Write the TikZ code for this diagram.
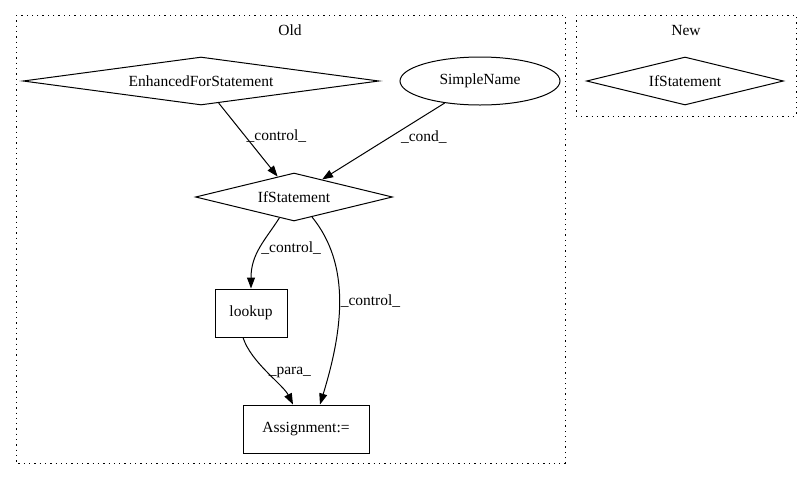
\documentclass[tikz,border=0pt]{standalone}
\usepackage{fontspec}
\setmainfont{Liberation Serif}
\usetikzlibrary{arrows.meta,shapes.geometric}
\tikzset{
  every node/.style={font=\fontsize{15.5}{18}\selectfont},
  cluster/.style={line width=1pt,dash pattern=on 1.3pt off 4pt},
  cond/.style={draw,diamond,inner sep=0pt,line width=1pt},
  var/.style={draw,ellipse,inner sep=0pt,line width=1pt,minimum width=160pt,minimum height=48pt},
  op/.style={draw,rectangle,inner sep=0pt,line width=1pt,minimum height=48pt},
  lbl/.style={inner sep=1pt},
}
\begin{document}
\begin{tikzpicture}[x=1pt,y=-1pt,>={Triangle[length=11pt,width=8pt]},line width=1pt]
    %\draw [help lines] (0,0) grid (811,480);
    \useasboundingbox (0,0) rectangle (811,480);

    \draw[cluster] (16,15) rectangle (565,463);
    \draw[cluster] (576,15) rectangle (796,116);
    \node (Old) at (290,30) {Old};
    \node (New) at (686,30) {New};

    \node[cond,aspect=7.4,minimum width=356pt,minimum height=48pt] (EnhancedForStatement) at (201,81) {EnhancedForStatement};
    \node[var] (SimpleName) at (480,81) {SimpleName};
    \node[cond,aspect=4.1,minimum width=197pt,minimum height=48pt] (IfStatement) at (294,197) {IfStatement};
    \node[op,minimum width=72pt] (lookup) at (251,313) {lookup};
    \node[op,minimum width=126pt] (Assignment) at (306,429) {Assignment:=};

    \node[cond,aspect=4.1,minimum width=197pt,minimum height=48pt] (IfStatementNew) at (685,81) {IfStatement};

    \draw[->] (EnhancedForStatement) to node[lbl,right,pos=0.45] {\_control\_} (IfStatement);
    \draw[->] (SimpleName) to node[lbl,right,pos=0.45,xshift=10pt] {\_cond\_} (IfStatement);
    \draw[->] (IfStatement.-125) .. controls +(-14,22) and +(0,-35) .. (lookup.north)
        node[lbl,right,pos=0.5] {\_control\_};
    \draw[->] (IfStatement.-48) .. controls +(39,48) and +(23,-75) .. ([xshift=14pt]Assignment.north)
        node[lbl,right,pos=0.5] {\_control\_};
    \draw[->] ([xshift=-8pt]lookup.south) .. controls +(8,25) and +(-10,-20) .. ([xshift=-13pt]Assignment.north)
        node[lbl,right,pos=0.5] {\_para\_};
  \end{tikzpicture}
\end{document}
